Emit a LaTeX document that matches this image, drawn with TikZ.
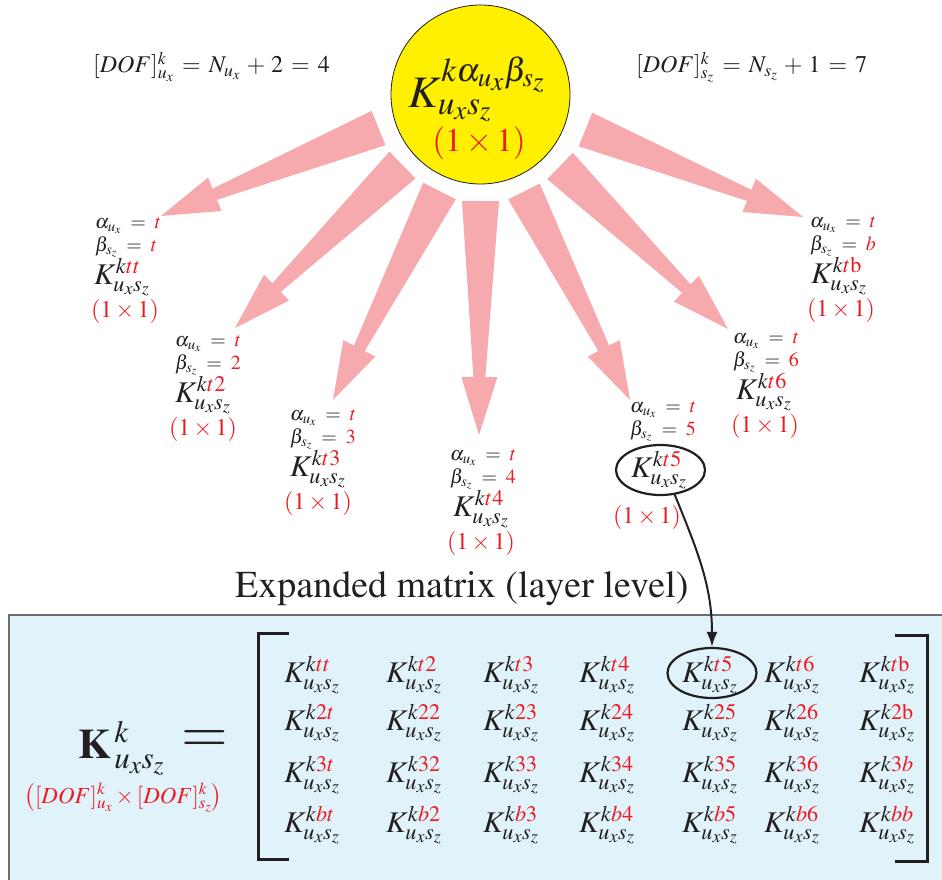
\documentclass[tikz,border=0pt]{standalone}
\usepackage[T1]{fontenc}
\usepackage{mathptmx}
\usetikzlibrary{calc,arrows.meta,shapes.geometric}
\definecolor{kred}{RGB}{237,28,36}
\definecolor{kpink}{RGB}{247,170,174}
\definecolor{kyellow}{RGB}{255,240,0}
\definecolor{kblue}{RGB}{224,242,250}
\definecolor{kgray}{RGB}{110,110,110}
\definecolor{kink}{RGB}{35,31,32}
\newcommand\rd[1]{\textcolor{kred}{#1}}
\newcommand\Kel[1]{K^{k\rd{#1}}_{u_x s_z}}
\newcommand\fsz[1]{\fontsize{#1}{#1}\selectfont}
\newcommand\fatarrow[3]{%
  \coordinate (hh) at ($(#2)!58pt!(#1)$);
  \fill[fat] ($(#1)!#3pt!90:(#2)$) -- ($(hh)!6pt!90:(#2)$) -- ($(hh)!18pt!90:(#2)$) -- (#2)
     -- ($(hh)!18pt!-90:(#2)$) -- ($(hh)!6pt!-90:(#2)$) -- ($(#1)!#3pt!-90:(#2)$) -- cycle;}
\tikzset{
  every node/.style={text=kink},
  lbl/.style={inner sep=0, anchor=base west, font=\fsz{20}},
  kexp/.style={inner sep=0, anchor=base, font=\fsz{30}},
  dimlbl/.style={inner sep=0, anchor=base, font=\fsz{24}, text=kred},
  fat/.style={fill=kpink},
  ring/.style={draw=kink, line width=2.2pt, ellipse, minimum width=89pt, minimum height=50pt, inner sep=0},
}
\begin{document}
\begin{tikzpicture}[x=1pt,y=-1pt]
\useasboundingbox (0,0) rectangle (942,880);
\clip (0,0) rectangle (942,880);
% top circle
\node[circle, draw=kink, line width=0.8pt, fill=kyellow, minimum size=179pt, inner sep=0] (top) at (480.5,94.5) {};
\node[inner sep=0, anchor=base, font=\fsz{45}] (topK) at (477,108) {$K^{k\alpha_{u_x}\beta_{s_z}}_{u_x s_z}$};
\node[dimlbl, font=\fsz{33}] (topdim) at (479,151) {$(1\times1)$};
% DOF formulas
\node[inner sep=0, anchor=base west, font=\fsz{24}] (dofu) at (93,73) {$[DOF]^{k}_{u_x} \,=\, N_{u_x} \,+\, 2 \,=\, 4$};
\node[inner sep=0, anchor=base west, font=\fsz{24}] (dofs) at (636,73) {$[DOF]^{k}_{s_z} \,=\, N_{s_z} \,+\, 1 \,=\, 7$};
% arrow coordinates
\coordinate (t1) at (378.5,128); \coordinate (p1) at (161,216);
\coordinate (t2) at (402.5,165); \coordinate (p2) at (235,328);
\coordinate (t3) at (439.5,191); \coordinate (p3) at (333,400);
\coordinate (t4) at (480.5,201); \coordinate (p4) at (479,435);
\coordinate (t5) at (524,191.5); \coordinate (p5) at (630,400);
\coordinate (t6) at (560,166);   \coordinate (p6) at (728,329);
\coordinate (t7) at (585.5,129.5); \coordinate (p7) at (803,217);
\fatarrow{t1}{p1}{18.5}
\fatarrow{t2}{p2}{18.7}
\fatarrow{t3}{p3}{18.3}
\fatarrow{t4}{p4}{18.5}
\fatarrow{t5}{p5}{17.7}
\fatarrow{t6}{p6}{18.4}
\fatarrow{t7}{p7}{18.1}
% node 1
\node[lbl] (a1) at (95,228) {$\alpha_{u_x} \;=\; \rd{t}$};
\node[lbl] (b1) at (95,251) {$\beta_{s_z} \;=\; \rd{t}$};
\node[kexp] (k1) at (122,284) {$\Kel{tt}$};
\node[dimlbl] (d1) at (125,317) {$(1\times1)$};
% node 2
\node[lbl] (a2) at (175,346) {$\alpha_{u_x} \;=\; \rd{t}$};
\node[lbl] (b2) at (175,369) {$\beta_{s_z} \;=\; \rd{2}$};
\node[kexp] (k2) at (203,402) {$\Kel{t2}$};
\node[dimlbl] (d2) at (203,435) {$(1\times1)$};
% node 3
\node[lbl] (a3) at (290,420) {$\alpha_{u_x} \;=\; \rd{t}$};
\node[lbl] (b3) at (290,443) {$\beta_{s_z} \;=\; \rd{3}$};
\node[kexp] (k3) at (318,476) {$\Kel{t3}$};
\node[dimlbl] (d3) at (318,509) {$(1\times1)$};
% node 4
\node[lbl] (a4) at (450,460) {$\alpha_{u_x} \;=\; \rd{t}$};
\node[lbl] (b4) at (450,483) {$\beta_{s_z} \;=\; \rd{4}$};
\node[kexp] (k4) at (481,516) {$\Kel{t4}$};
\node[dimlbl] (d4) at (481,549) {$(1\times1)$};
% node 5
\node[lbl] (a5) at (630,412) {$\alpha_{u_x} \;=\; \rd{t}$};
\node[lbl] (b5) at (630,435) {$\beta_{s_z} \;=\; \rd{5}$};
\node[kexp] (k5) at (659,477) {$\Kel{t5}$};
\node[ring] (e5) at (660.5,470) {};
\node[dimlbl] (d5) at (647,523) {$(1\times1)$};
% node 6
\node[lbl] (a6) at (733,343) {$\alpha_{u_x} \;=\; \rd{t}$};
\node[lbl] (b6) at (733,366) {$\beta_{s_z} \;=\; \rd{6}$};
\node[kexp] (k6) at (764,399) {$\Kel{t6}$};
\node[dimlbl] (d6) at (765,432) {$(1\times1)$};
% node 7
\node[lbl] (a7) at (810,227) {$\alpha_{u_x} \;=\; \rd{t}$};
\node[lbl] (b7) at (810,250) {$\beta_{s_z} \;=\; \rd{b}$};
\node[kexp] (k7) at (839,283) {$\Kel{t\mathrm{b}}$};
\node[dimlbl] (d7) at (841,316) {$(1\times1)$};
% title
\node[inner sep=0, anchor=base west, font=\fsz{38}] (title) at (235,597) {Expanded matrix (layer level)};
% blue box
\fill[kblue] (9,615) rectangle (960,900);
\draw[kgray, line width=1.5pt] (960,615) -- (9,615) -- (9,900);
% big K
\node[inner sep=0, anchor=base west, font=\fsz{42}] (bigK) at (78,758) {$\mathbf{K}^{\,k}_{\,u_x s_z}$};
\node[inner sep=0, font=\fsz{60}] (eq) at (204.5,742) {$=$};
\node[inner sep=0, anchor=base, font=\fsz{23}, text=kred] (dimK) at (123.5,803) {$\bigl([DOF]^{k}_{u_x}\times[DOF]^{k}_{s_z}\bigr)$};
% brackets
\draw[kink, line width=3pt] (289,633) -- (258,633) -- (258,859) -- (289,859);
\draw[kink, line width=3pt] (895,635) -- (927,635) -- (927,861) -- (895,861);
% matrix entries
\foreach \r/\yy/\la/\lb/\lc/\ld/\le/\lf/\lg in {
  1/682/tt/t2/t3/t4/t5/t6/t\mathrm{b},
  2/730/2t/22/23/24/25/26/2\mathrm{b},
  3/782/3t/32/33/34/35/36/3b,
  4/832/bt/b2/b3/b4/b5/b6/bb}{
  \node[kexp] (m\r c1) at (312,\yy) {$\Kel{\la}$};
  \node[kexp] (m\r c2) at (414,\yy) {$\Kel{\lb}$};
  \node[kexp] (m\r c3) at (511,\yy) {$\Kel{\lc}$};
  \node[kexp] (m\r c4) at (607,\yy) {$\Kel{\ld}$};
  \node[kexp] (m\r c5) at (710,\yy) {$\Kel{\le}$};
  \node[kexp] (m\r c6) at (792,\yy) {$\Kel{\lf}$};
  \node[kexp] (m\r c7) at (887,\yy) {$\Kel{\lg}$};
}
\node[ring] (em) at (712,673) {};
% connector
\draw[kink, line width=2pt, -{Latex[length=15pt,width=11pt]}] (e5.300) to[out=-68,in=90] (em.north);
\end{tikzpicture}
\end{document}
